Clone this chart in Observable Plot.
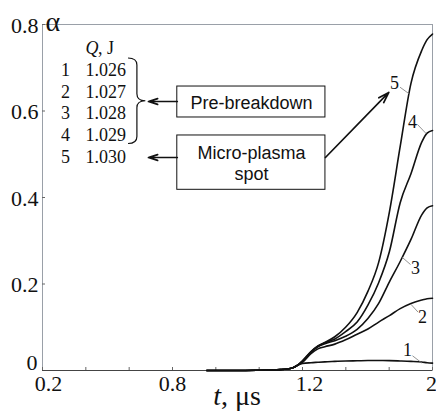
<!DOCTYPE html>
<html><head><meta charset="utf-8">
<script src="https://cdn.jsdelivr.net/npm/d3@7"></script>
<script src="https://cdn.jsdelivr.net/npm/@observablehq/plot@0.6"></script>
<style>
body{margin:0;background:#fff;}
#chart{width:436px;height:416px;}
</style></head><body><div id="chart"></div>
<script>
// time, microseconds (read against the printed axis labels 0.2, 0.8, 1.2, 2)
const t = [0.9, 0.99, 1.05, 1.085, 1.115, 1.15, 1.165, 1.18, 1.21, 1.255, 1.3, 1.365, 1.435, 1.51, 1.58, 1.65, 1.72, 1.79, 1.86, 1.93, 1.965, 2.0];
// alpha for the five curves
const alpha1 = [0, 0, 0.0005, 0.001, 0.002, 0.006, 0.012, 0.016, 0.018, 0.019, 0.020, 0.021, 0.022, 0.0225, 0.023, 0.023, 0.0228, 0.022, 0.021, 0.0195, 0.018, 0.017];
const alpha2 = [0, 0, 0.0005, 0.001, 0.002, 0.006, 0.012, 0.019, 0.039, 0.050, 0.055, 0.061, 0.071, 0.084, 0.096, 0.112, 0.127, 0.143, 0.155, 0.163, 0.166, 0.167];
const alpha3 = [0, 0, 0.0005, 0.001, 0.002, 0.006, 0.012, 0.021, 0.042, 0.055, 0.062, 0.069, 0.079, 0.095, 0.120, 0.155, 0.205, 0.252, 0.303, 0.360, 0.376, 0.381];
const alpha4 = [0, 0, 0.0005, 0.001, 0.002, 0.006, 0.012, 0.022, 0.043, 0.056, 0.064, 0.073, 0.090, 0.112, 0.151, 0.203, 0.275, 0.388, 0.455, 0.528, 0.549, 0.555];
const alpha5 = [0, 0, 0.0005, 0.001, 0.002, 0.006, 0.012, 0.023, 0.044, 0.057, 0.065, 0.078, 0.100, 0.134, 0.183, 0.250, 0.367, 0.518, 0.664, 0.740, 0.765, 0.778];
const curveIds = ["1", "2", "3", "4", "5"];
const curveAlphas = [alpha1, alpha2, alpha3, alpha4, alpha5];
const energies = ["1.026", "1.027", "1.028", "1.029", "1.030"];

// x axis: printed labels sit unevenly along evenly spaced tick marks,
// so labelled time is warped onto an even axis through these anchor points
const xLabelValues = [0.2, 0.8, 1.2, 2];
const xLabelAxisPos = [0.2, 0.8, 1.432, 2];
const xTickMarks = [0.2, 0.4, 0.6, 0.8, 1.0, 1.2, 1.4, 1.6, 1.8, 2.0]; // even axis units
const yTicks = [0, 0.2, 0.4, 0.6, 0.8];
const warp = d3.scaleLinear().domain(xLabelValues).range(xLabelAxisPos);

// annotations (labelled time / alpha units)
const legendRowAlpha = [0.694, 0.643, 0.594, 0.543, 0.492];
const legendHeaderAlpha = 0.745;
const legendIdT = 0.306, legendValueT = 0.398;
const braceT = [0.597, 0.638, 0.677], braceA = [0.7214, 0.6225, 0.5237];
const boxes = [
  {x1: 0.814, x2: 1.304, y1: 0.585, y2: 0.6566, tx: 1.031, ty: 0.621, text: "Pre-breakdown"},
  {x1: 0.814, x2: 1.304, y1: 0.4178, y2: 0.5434, tx: 1.031, ty: 0.481, text: "Micro-plasma\nspot"}
];
const arrows = [
  {x1: 0.814, y1: 0.622, x2: 0.689, y2: 0.622},
  {x1: 0.814, y1: 0.4925, x2: 0.689, y2: 0.4925},
  {x1: 1.304, y1: 0.4925, x2: 1.716, y2: 0.643}
];
const curveLabels = [
  {id: "1", t: 1.837, a: 0.046, lt1: 1.870, la1: 0.034, lt2: 1.932, la2: 0.017},
  {id: "2", t: 1.935, a: 0.123, lt1: 1.906, la1: 0.135, lt2: 1.860, la2: 0.153},
  {id: "3", t: 1.889, a: 0.236, lt1: 1.857, la1: 0.245, lt2: 1.802, la2: 0.262},
  {id: "4", t: 1.870, a: 0.573, lt1: 1.902, la1: 0.569, lt2: 1.958, la2: 0.548},
  {id: "5", t: 1.753, a: 0.664, lt1: 1.789, la1: 0.655, lt2: 1.847, la2: 0.640}
];

const rows = curveIds.flatMap((id, k) => t.map((tt, i) => ({id, t: tt, alpha: curveAlphas[k][i]})));
const legendRows = curveIds.map((id, i) => ({id, q: energies[i], a: legendRowAlpha[i]}));

const serif = "Liberation Serif, serif";
const sans = "Liberation Sans, sans-serif";
const fmtLabel = d => String(+warp.invert(d).toFixed(1));

function braceMark(index, {x, y}) {
  const xl = x(warp(braceT[0])), xm = x(warp(braceT[1])), xt = x(warp(braceT[2]));
  const yt = y(braceA[0]), ym = y(braceA[1]), yb = y(braceA[2]);
  const r = 7;
  const d = `M${xl},${yt} Q${xm},${yt} ${xm},${yt + r} L${xm},${ym - r} Q${xm},${ym} ${xt},${ym} Q${xm},${ym} ${xm},${ym + r} L${xm},${yb - r} Q${xm},${yb} ${xl},${yb}`;
  return d3.create("svg:path").attr("d", d).attr("fill", "none").attr("stroke", "#111").attr("stroke-width", 1.2).node();
}
function xLabelMark(index, scales, values, dims) {
  const txt = d3.create("svg:text")
    .attr("x", (dims.marginLeft + dims.width - dims.marginRight) / 2)
    .attr("y", dims.height - 11)
    .attr("text-anchor", "middle").attr("font-size", 28).attr("fill", "#111");
  txt.append("tspan").attr("font-style", "italic").text("t");
  txt.append("tspan").text(", μs");
  return txt.node();
}

const plot = Plot.plot({
  width: 436, height: 416,
  marginLeft: 42, marginRight: 4, marginTop: 24, marginBottom: 46,
  x: {domain: [0.2, 2]},
  y: {domain: [0, 0.8]},
  style: {fontFamily: serif, fontSize: "22px", background: "#fff", color: "#111"},
  marks: [
    Plot.frame({stroke: "#9aa0a8", strokeWidth: 1}),
    Plot.axisX({ticks: xTickMarks, tickSize: -3, tickFormat: () => "", stroke: "#666", label: null}),
    Plot.axisX({ticks: [warp(0.2)], tickSize: 0, tickPadding: 5, dx: 6, tickFormat: fmtLabel, fontSize: 22, label: null}),
    Plot.axisX({ticks: [warp(0.8), warp(1.2)], tickSize: 0, tickPadding: 5, tickFormat: fmtLabel, fontSize: 22, label: null}),
    Plot.axisX({ticks: [warp(2)], tickSize: 0, tickPadding: 5, dx: -1, tickFormat: fmtLabel, fontSize: 22, label: null}),
    Plot.axisY({ticks: yTicks, tickSize: -3, tickFormat: () => "", stroke: "#666", label: null}),
    Plot.axisY({ticks: [0], tickSize: 0, tickPadding: 5, dy: -8, tickFormat: d => String(d), fontSize: 22, label: null}),
    Plot.axisY({ticks: yTicks.slice(1), tickSize: 0, tickPadding: 4, dy: 1, tickFormat: d => String(d), fontSize: 22, label: null}),
    Plot.ruleY([0], {stroke: "#444", strokeWidth: 1}),
    Plot.line(rows, {x: d => warp(d.t), y: "alpha", z: "id", stroke: "#111", strokeWidth: 1.6, curve: "monotone-x"}),
    Plot.link(curveLabels, {x1: d => warp(d.lt1), y1: "la1", x2: d => warp(d.lt2), y2: "la2", stroke: "#777", strokeWidth: 0.8}),
    Plot.text(curveLabels, {x: d => warp(d.t), y: "a", text: "id", fontSize: 18, fill: "#111"}),
    // legend
    Plot.text(["Q"], {x: warp(legendValueT), y: legendHeaderAlpha, text: d => d, textAnchor: "start", fontStyle: "italic", fontSize: 18}),
    Plot.text([", J"], {x: warp(legendValueT), y: legendHeaderAlpha, text: d => d, textAnchor: "start", dx: 12.5, fontSize: 18}),
    Plot.text(legendRows, {x: warp(legendIdT), y: "a", text: "id", fontSize: 18}),
    Plot.text(legendRows, {x: warp(legendValueT), y: "a", text: "q", textAnchor: "start", fontSize: 18}),
    braceMark,
    Plot.rect(boxes, {x1: d => warp(d.x1), x2: d => warp(d.x2), y1: "y1", y2: "y2", fill: "#fff", stroke: "#111", strokeWidth: 1}),
    Plot.text(boxes, {x: d => warp(d.tx), y: "ty", text: "text", fontFamily: sans, fontSize: 18, lineHeight: 1.2, fill: "#111"}),
    Plot.arrow(arrows, {x1: d => warp(d.x1), y1: "y1", x2: d => warp(d.x2), y2: "y2", stroke: "#111", strokeWidth: 1.7, headLength: 10, headAngle: 35}),
    Plot.text(["α"], {frameAnchor: "top-left", text: d => d, textAnchor: "start", dx: 3, dy: -13, fontSize: 28}),
    xLabelMark
  ]
});
document.getElementById("chart").appendChild(plot);
</script>
</body></html>
